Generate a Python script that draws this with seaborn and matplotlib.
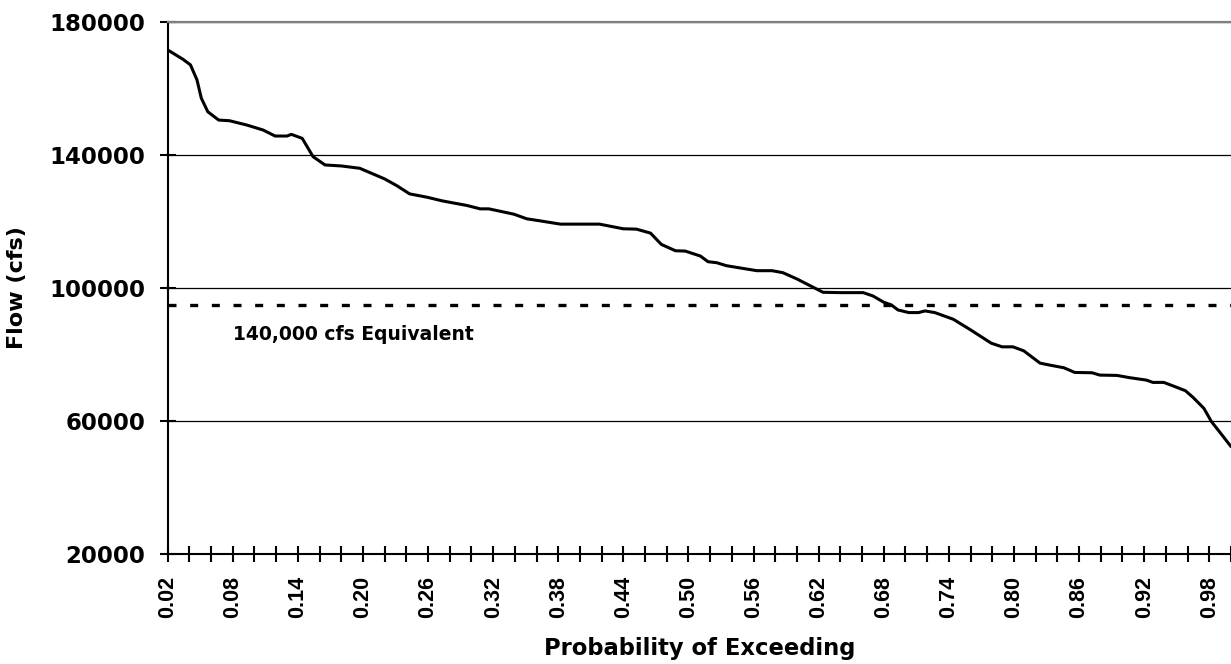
import matplotlib
matplotlib.use("Agg")
import matplotlib.pyplot as plt
import matplotlib.ticker as mticker
import seaborn as sns
import numpy as np
import pandas as pd

# flow-duration curve
prob = [0.020, 0.034, 0.041, 0.047, 0.051, 0.057, 0.067, 0.077, 0.093, 0.108,
        0.119, 0.130, 0.134, 0.144, 0.154, 0.165, 0.180, 0.197, 0.220, 0.231,
        0.243, 0.259, 0.273, 0.296, 0.308, 0.316, 0.339, 0.351, 0.363, 0.382,
        0.418, 0.440, 0.452, 0.465, 0.475, 0.488, 0.497, 0.511, 0.518, 0.526,
        0.535, 0.548, 0.563, 0.577, 0.587, 0.600, 0.612, 0.624, 0.640, 0.661,
        0.670, 0.680, 0.687, 0.693, 0.703, 0.712, 0.718, 0.727, 0.744, 0.760,
        0.779, 0.789, 0.799, 0.809, 0.824, 0.833, 0.846, 0.856, 0.872, 0.879,
        0.895, 0.907, 0.922, 0.928, 0.938, 0.947, 0.958, 0.965, 0.975, 0.982,
        0.990, 1.000]
flow = [171600, 168800, 167100, 162600, 157100, 153000, 150500, 150300, 149000, 147500,
        145700, 145700, 146200, 145000, 139500, 137000, 136700, 136000, 132800, 130800,
        128300, 127300, 126200, 124800, 123800, 123800, 122200, 120800, 120200, 119200,
        119200, 117800, 117700, 116500, 113100, 111200, 111100, 109600, 107900, 107600,
        106700, 106000, 105200, 105200, 104600, 102700, 100700, 98700, 98600, 98600,
        97600, 95700, 94900, 93400, 92600, 92600, 93100, 92600, 90600, 87400,
        83400, 82300, 82300, 81100, 77400, 76800, 76000, 74600, 74500, 73800,
        73700, 73000, 72300, 71600, 71600, 70500, 69100, 67100, 63800, 59800,
        56500, 52300]

equiv_flow = 95000
equiv_label = "140,000 cfs Equivalent"
y_ticks = [20000, 60000, 100000, 140000, 180000]
x_major = [0.02, 0.08, 0.14, 0.20, 0.26, 0.32, 0.38, 0.44, 0.50, 0.56,
           0.62, 0.68, 0.74, 0.80, 0.86, 0.92, 0.98]

df = pd.DataFrame({"prob": prob, "flow": flow})

sns.set_style("white")
plt.rcParams["font.family"] = ["DejaVu Sans"]
plt.rcParams["text.color"] = "black"
plt.rcParams["axes.labelcolor"] = "black"
plt.rcParams["xtick.color"] = "black"
plt.rcParams["ytick.color"] = "black"

fig = plt.figure(figsize=(12.31, 6.64), dpi=100)
ax = fig.add_axes([0.1362, 0.1657, 0.8638, 0.8012])

sns.lineplot(data=df, x="prob", y="flow", color="black", linewidth=2.2,
             sort=False, estimator=None, ax=ax)
ax.axhline(equiv_flow, color="black", linewidth=2.4, dashes=(2.4, 4.1))
ax.text(0.08, 86000, equiv_label, fontsize=13.5, fontweight="bold",
        va="center", ha="left", color="black")

ax.set_xlim(0.02, 1.00)
ax.set_ylim(20000, 180000)
ax.set_yticks(y_ticks)
ax.xaxis.set_major_locator(mticker.FixedLocator(x_major))
ax.xaxis.set_minor_locator(mticker.MultipleLocator(0.02))
ax.xaxis.set_major_formatter(mticker.FormatStrFormatter("%.2f"))
ax.yaxis.set_major_formatter(mticker.FormatStrFormatter("%d"))

ax.grid(axis="y", color="black", linewidth=0.9)
ax.grid(axis="x", visible=False)
ax.set_axisbelow(True)

for side in ["left", "bottom"]:
    ax.spines[side].set_color("black")
    ax.spines[side].set_linewidth(1.5)
ax.spines["right"].set_visible(False)
ax.spines["top"].set_color("#808080")
ax.spines["top"].set_linewidth(1.6)

ax.tick_params(axis="x", which="both", direction="inout", length=12, width=1.5,
               bottom=True, pad=10, colors="black")
ax.tick_params(axis="y", which="major", direction="inout", length=12, width=1.5,
               left=True, pad=10, labelsize=16.5, colors="black")
for lab in ax.get_yticklabels():
    lab.set_fontweight("bold")
for lab in ax.get_xticklabels():
    lab.set_rotation(90)
    lab.set_fontfamily(["Liberation Sans", "DejaVu Sans"])
    lab.set_fontweight("bold")
    lab.set_fontsize(15.5)

ax.set_xlabel("Probability of Exceeding", fontsize=16.3, fontweight="bold",
              va="center", color="black")
ax.set_ylabel("Flow (cfs)", fontsize=16, fontweight="bold", va="center",
              color="black")
ax.xaxis.set_label_coords(0.5, -0.177)
ax.yaxis.set_label_coords(-0.1417, 0.5)

fig.savefig("out.png", dpi=100)
